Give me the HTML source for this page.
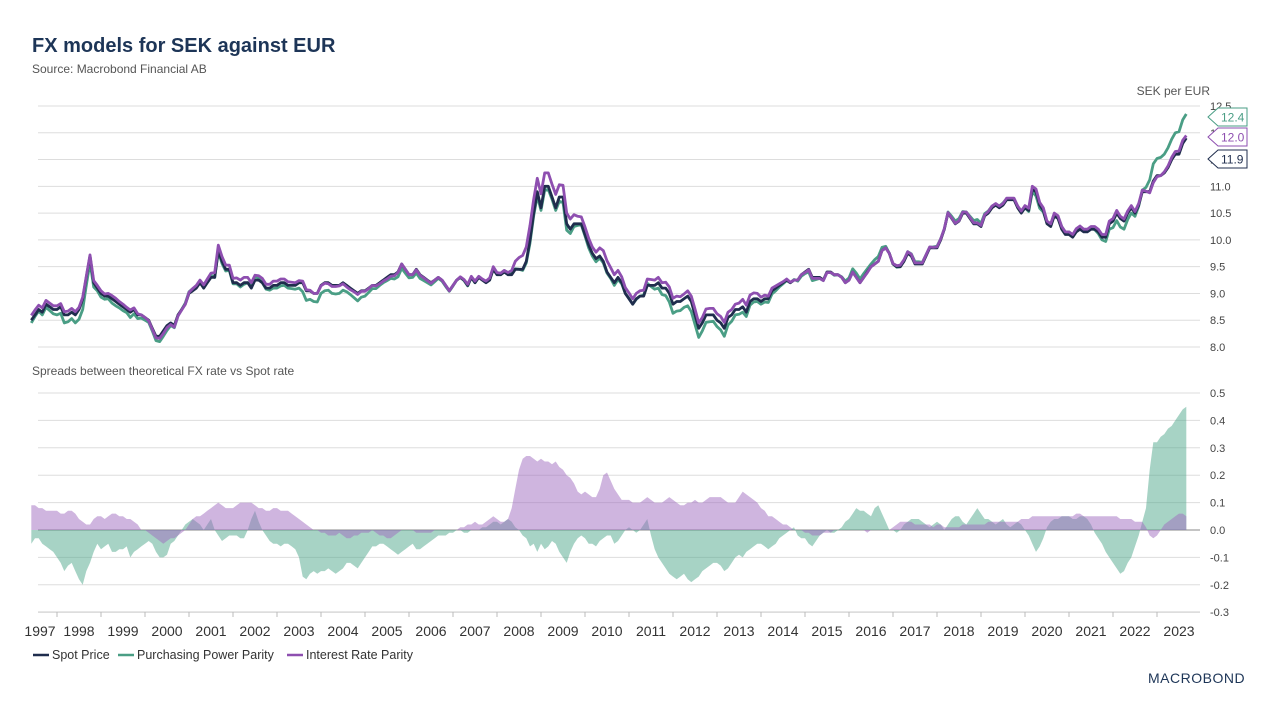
<!DOCTYPE html>
<html><head><meta charset="utf-8"><style>
body{margin:0;background:#fff;font-family:"Liberation Sans",sans-serif;}
svg text{font-family:"Liberation Sans",sans-serif;}
</style></head><body>
<svg id="c" width="1280" height="720">
<text x="32" y="52" font-size="20" font-weight="bold" fill="#1d3557">FX models for SEK against EUR</text>
<text x="32" y="73" font-size="12" fill="#555">Source: Macrobond Financial AB</text>
<text x="1210" y="95" font-size="12" fill="#555" text-anchor="end">SEK per EUR</text>
<text x="32" y="375" font-size="12" fill="#555">Spreads between theoretical FX rate vs Spot rate</text>
<g id="topG"></g>
<g id="botG"></g>
<g id="xax"></g>
<g>
<line x1="33" y1="655" x2="49" y2="655" stroke="#1f2d4d" stroke-width="2.5"/><text x="52" y="659" font-size="12.5" fill="#333">Spot Price</text>
<line x1="118" y1="655" x2="134" y2="655" stroke="#4a9e85" stroke-width="2.5"/><text x="137" y="659" font-size="12.5" fill="#333">Purchasing Power Parity</text>
<line x1="287" y1="655" x2="303" y2="655" stroke="#8e4fb0" stroke-width="2.5"/><text x="306" y="659" font-size="12.5" fill="#333">Interest Rate Parity</text>
</g>
<g><text x="1148" y="683" font-size="14" fill="#1d3557" letter-spacing="0.5">MACROBOND</text></g>
</svg>
<script>
const spot=[8.5,8.6,8.7,8.65,8.8,8.75,8.7,
8.7,8.75,8.6,8.6,8.65,8.6,8.7,8.9,9.3,9.7,9.2,9.1,
9.0,8.95,8.95,8.9,8.85,8.8,8.75,8.7,8.65,8.7,8.6,8.6,
8.55,8.5,8.35,8.2,8.2,8.3,8.4,8.45,8.4,8.6,8.7,8.8,
9.0,9.05,9.1,9.2,9.1,9.2,9.3,9.3,9.8,9.6,9.45,9.45,
9.2,9.2,9.15,9.2,9.2,9.1,9.25,9.25,9.2,9.1,9.1,9.15,
9.15,9.2,9.2,9.15,9.15,9.15,9.2,9.2,9.05,9.05,9.0,9.0,
9.15,9.2,9.2,9.15,9.15,9.15,9.2,9.15,9.1,9.05,9.0,9.05,
9.05,9.1,9.15,9.15,9.2,9.25,9.3,9.35,9.35,9.4,9.55,9.45,
9.35,9.35,9.45,9.35,9.3,9.25,9.2,9.25,9.3,9.25,9.15,9.05,
9.15,9.25,9.3,9.25,9.15,9.3,9.2,9.3,9.25,9.2,9.25,9.45,
9.35,9.35,9.4,9.35,9.35,9.45,9.45,9.45,9.6,10.0,10.5,10.9,
10.6,11.0,11.0,10.8,10.6,10.8,10.8,10.3,10.2,10.3,10.3,10.3,
10.1,9.9,9.75,9.65,9.7,9.6,9.4,9.3,9.2,9.3,9.2,9.0,
8.9,8.8,8.9,8.95,8.95,9.15,9.15,9.15,9.2,9.1,9.1,9.0,
8.8,8.85,8.85,8.9,8.95,8.85,8.6,8.35,8.45,8.6,8.6,8.6,
8.5,8.45,8.35,8.55,8.6,8.7,8.7,8.75,8.65,8.85,8.9,8.9,
8.85,8.9,8.9,9.05,9.1,9.15,9.2,9.25,9.2,9.25,9.25,9.35,
9.4,9.45,9.3,9.3,9.3,9.25,9.4,9.4,9.35,9.35,9.3,9.2,
9.25,9.4,9.3,9.2,9.3,9.4,9.5,9.55,9.6,9.8,9.85,9.75,
9.55,9.5,9.5,9.6,9.75,9.7,9.55,9.55,9.55,9.7,9.85,9.85,
9.85,10.0,10.2,10.5,10.4,10.3,10.35,10.5,10.5,10.4,10.3,10.3,
10.25,10.45,10.5,10.6,10.65,10.6,10.65,10.75,10.75,10.75,10.6,10.5,
10.6,10.55,10.95,10.9,10.65,10.55,10.3,10.25,10.45,10.4,10.2,10.1,
10.1,10.05,10.15,10.2,10.15,10.15,10.2,10.2,10.15,10.05,10.05,10.3,
10.35,10.5,10.4,10.35,10.5,10.6,10.5,10.65,10.9,10.9,10.9,11.1,
11.2,11.2,11.25,11.35,11.5,11.6,11.6,11.8,11.9];
const pppSpread=[-0.05,-0.03,-0.03,-0.05,-0.06,-0.07,-0.08,
-0.1,-0.12,-0.15,-0.13,-0.12,-0.15,-0.18,-0.2,-0.15,-0.12,-0.08,-0.05,
-0.07,-0.06,-0.05,-0.08,-0.08,-0.07,-0.07,-0.06,-0.1,-0.08,-0.07,-0.06,
-0.05,-0.04,-0.05,-0.08,-0.1,-0.1,-0.09,-0.05,-0.04,-0.02,0.0,0.02,
0.03,0.04,0.03,0.02,0.0,0.02,0.04,0.0,-0.02,-0.04,-0.03,-0.02,
-0.02,-0.02,-0.03,-0.03,0.0,0.04,0.07,0.03,0.0,-0.02,-0.04,-0.05,
-0.05,-0.06,-0.05,-0.05,-0.06,-0.07,-0.1,-0.17,-0.18,-0.16,-0.15,-0.16,
-0.15,-0.15,-0.14,-0.15,-0.16,-0.15,-0.14,-0.12,-0.12,-0.13,-0.14,-0.12,
-0.1,-0.08,-0.06,-0.06,-0.05,-0.05,-0.06,-0.07,-0.08,-0.09,-0.08,-0.07,
-0.06,-0.05,-0.07,-0.07,-0.06,-0.05,-0.04,-0.03,-0.02,-0.02,-0.02,-0.01,
-0.01,0.0,0.0,-0.01,-0.01,0.0,0.0,0.0,0.01,0.01,0.02,0.03,
0.03,0.02,0.03,0.04,0.03,0.01,0.0,-0.02,-0.03,-0.06,-0.05,-0.08,
-0.05,-0.07,-0.06,-0.04,-0.05,-0.08,-0.1,-0.12,-0.08,-0.05,-0.03,-0.02,
-0.03,-0.05,-0.05,-0.06,-0.04,-0.03,-0.02,-0.02,-0.05,-0.04,-0.02,0.0,
0.01,0.0,-0.01,0.0,0.02,0.04,-0.02,-0.07,-0.1,-0.12,-0.14,-0.16,
-0.17,-0.18,-0.17,-0.16,-0.18,-0.19,-0.18,-0.17,-0.15,-0.14,-0.13,-0.12,
-0.12,-0.13,-0.15,-0.14,-0.12,-0.1,-0.09,-0.1,-0.08,-0.07,-0.06,-0.05,
-0.05,-0.06,-0.07,-0.06,-0.05,-0.03,-0.02,-0.01,0.0,0.01,-0.02,-0.03,
-0.03,-0.05,-0.06,-0.04,-0.02,-0.01,0.0,-0.01,-0.01,0.0,0.01,0.03,
0.04,0.06,0.08,0.07,0.07,0.06,0.05,0.08,0.09,0.06,0.03,0.0,
0.0,-0.01,0.0,0.02,0.03,0.04,0.04,0.04,0.03,0.02,0.01,0.02,
0.03,0.02,0.0,0.02,0.04,0.05,0.05,0.03,0.02,0.04,0.06,0.08,
0.06,0.04,0.04,0.03,0.02,0.03,0.04,0.02,0.01,0.02,0.03,0.02,
0.0,-0.02,-0.05,-0.08,-0.06,-0.03,0.01,0.03,0.04,0.04,0.05,0.05,
0.05,0.04,0.04,0.05,0.05,0.04,0.02,-0.01,-0.03,-0.05,-0.08,-0.1,
-0.12,-0.14,-0.16,-0.15,-0.12,-0.1,-0.06,-0.02,0.03,0.08,0.22,0.32,
0.32,0.34,0.35,0.37,0.38,0.40,0.42,0.44,0.45];
const irpSpread=[0.09,0.09,0.08,0.08,0.07,0.07,0.07,
0.07,0.06,0.06,0.07,0.07,0.06,0.04,0.03,0.02,0.02,0.04,0.05,
0.05,0.04,0.05,0.06,0.06,0.05,0.05,0.04,0.04,0.03,0.02,0.0,
0.0,-0.01,-0.02,-0.03,-0.04,-0.05,-0.04,-0.03,-0.03,-0.02,-0.01,0.0,
0.02,0.04,0.05,0.05,0.06,0.07,0.08,0.09,0.1,0.09,0.08,0.08,
0.08,0.09,0.1,0.1,0.1,0.1,0.09,0.08,0.08,0.07,0.07,0.08,
0.08,0.07,0.07,0.07,0.06,0.05,0.04,0.03,0.02,0.01,0.0,0.0,
-0.01,-0.01,-0.02,-0.02,-0.02,-0.01,-0.02,-0.03,-0.03,-0.02,-0.02,-0.01,
-0.01,-0.01,0.0,-0.01,-0.02,-0.02,-0.03,-0.03,-0.02,-0.01,0.0,0.0,
0.0,0.0,-0.01,-0.01,-0.01,-0.01,-0.01,0.0,0.0,0.0,0.0,0.0,
0.0,0.0,0.01,0.01,0.02,0.02,0.03,0.02,0.02,0.03,0.04,0.05,
0.04,0.03,0.03,0.04,0.08,0.15,0.22,0.26,0.27,0.27,0.26,0.25,
0.26,0.25,0.25,0.24,0.25,0.23,0.22,0.2,0.19,0.17,0.14,0.13,
0.14,0.13,0.12,0.12,0.15,0.2,0.21,0.18,0.15,0.13,0.11,0.11,
0.11,0.1,0.1,0.1,0.11,0.12,0.11,0.1,0.1,0.1,0.11,0.12,
0.11,0.1,0.09,0.09,0.1,0.1,0.11,0.1,0.1,0.11,0.12,0.12,
0.12,0.12,0.11,0.1,0.1,0.1,0.12,0.14,0.13,0.12,0.11,0.1,
0.08,0.07,0.05,0.05,0.04,0.03,0.02,0.02,0.01,0.0,0.0,0.0,
-0.01,-0.01,-0.02,-0.02,-0.02,-0.01,-0.01,-0.01,0.0,0.0,0.0,0.0,
0.0,0.0,0.0,0.0,0.0,-0.01,0.0,0.0,0.0,0.0,0.0,0.0,
0.01,0.02,0.03,0.03,0.03,0.03,0.02,0.02,0.02,0.02,0.02,0.01,
0.02,0.02,0.01,0.01,0.01,0.01,0.01,0.02,0.02,0.02,0.02,0.02,
0.02,0.02,0.03,0.03,0.03,0.03,0.03,0.03,0.03,0.03,0.03,0.04,
0.04,0.04,0.05,0.05,0.05,0.05,0.05,0.05,0.05,0.05,0.05,0.05,
0.05,0.05,0.06,0.06,0.05,0.05,0.05,0.05,0.05,0.05,0.05,0.05,
0.05,0.05,0.04,0.04,0.04,0.04,0.03,0.03,0.03,0.01,-0.02,-0.03,
-0.02,0.0,0.02,0.03,0.04,0.05,0.06,0.06,0.05];
const topTicks=[8.0,8.5,9.0,9.5,10.0,10.5,11.0,11.5,12.0,12.5];
const botTicks=[-0.3,-0.2,-0.1,0.0,0.1,0.2,0.3,0.4,0.5];
const years=[1997,1998,1999,2000,2001,2002,2003,2004,2005,2006,2007,2008,2009,2010,2011,2012,2013,2014,2015,2016,2017,2018,2019,2020,2021,2022,2023];
const startT=1997+5/12;
const NS="http://www.w3.org/2000/svg";
const X0=38;
const xT=t=>57+(t-1998)*44;
const xi=i=>xT(startT+i/12);
const yTop=v=>347-(v-8)*(241/4.5);
const yBot=v=>530-v*(137/0.5);
function mk(tag,attrs,parent){const e=document.createElementNS(NS,tag);for(const k in attrs)e.setAttribute(k,attrs[k]);parent.appendChild(e);return e;}
const topG=document.getElementById('topG'),botG=document.getElementById('botG'),xax=document.getElementById('xax');
topTicks.forEach(v=>{
  const l=mk('line',{x1:X0,x2:1200,y1:yTop(v),y2:yTop(v),stroke:'#ddd','stroke-width':1},topG);
  
  
  const t=mk('text',{x:1210,y:yTop(v)+4,'font-size':11,fill:'#444'},topG);t.textContent=v.toFixed(1);
  
  
});
botTicks.forEach(v=>{
  const l=mk('line',{x1:X0,x2:1200,y1:yBot(v),y2:yBot(v),stroke:v===0?'#888':'#ddd','stroke-width':1},botG);
  
  
  const t=mk('text',{x:1210,y:yBot(v)+4,'font-size':11,fill:'#444'},botG);t.textContent=v.toFixed(1);
  
  
});
function area(arr,fill,name){
  let d='M'+xi(0)+','+yBot(0);
  arr.forEach((v,i)=>{d+=' L'+xi(i).toFixed(1)+','+yBot(v).toFixed(1);});
  d+=' L'+xi(arr.length-1)+','+yBot(0)+' Z';
  const p=mk('path',{d:d,fill:fill,'fill-opacity':0.5},botG);
  
  
}
area(pppSpread,'#4fa88c','ppp-spread-area');
area(irpSpread,'#a06cc0','irp-spread-area');
function line(fn,color,name){
  let d='';spot.forEach((s,i)=>{d+=(i?' L':'M')+xi(i).toFixed(1)+','+yTop(fn(i)).toFixed(1);});
  const p=mk('path',{d:d,fill:'none',stroke:color,'stroke-width':2.8,'stroke-linejoin':'round'},topG);
  
  
}
line(i=>spot[i]+pppSpread[i],'#4a9e85','ppp-line');
line(i=>spot[i],'#1f2d4d','spot-line');
line(i=>spot[i]+irpSpread[i],'#8e4fb0','irp-line');
[[12.4,117,'#4a9e85','ppp-end-label'],[12.0,137,'#8e4fb0','irp-end-label'],[11.9,159,'#1f2d4d','spot-end-label']].forEach(a=>{
  const g=mk('g',{},topG);
  
  
  const y=a[1];
  mk('path',{d:`M1208,${y} L1218,${y-9} L1247,${y-9} L1247,${y+9} L1218,${y+9} Z`,fill:'#fff',stroke:a[2],'stroke-width':1},g);
  const t=mk('text',{x:1221,y:y+4.5,'font-size':12,fill:a[2]},g);t.textContent=a[0].toFixed(1);
});
mk('line',{x1:X0,x2:1200,y1:612,y2:612,stroke:'#ccc'},xax);
years.forEach(yr=>{
  if(yr>1997){const tk=mk('line',{x1:xT(yr),x2:xT(yr),y1:612,y2:617,stroke:'#bbb'},xax);
  
  }
  const t=mk('text',{x:Math.max(40,xT(yr)+22),y:636,'font-size':14,fill:'#333','text-anchor':'middle'},xax);
  t.textContent=yr;
  
  
});
</script>
</body></html>
